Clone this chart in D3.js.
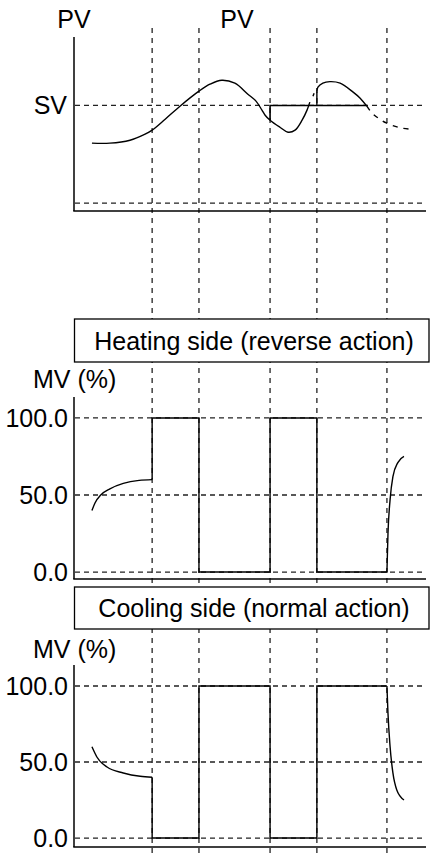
<!DOCTYPE html>
<html>
<head>
<meta charset="utf-8">
<script src="https://cdn.jsdelivr.net/npm/d3@7/dist/d3.min.js"></script>
<style>
html,body{margin:0;padding:0;background:#fff;}
svg{display:block;font-family:"Liberation Sans",Arial,sans-serif;}
</style>
</head>
<body>
<svg id="chart" width="430" height="857"></svg>
<script>
// ---------- DATA ----------
// time markers (vertical dashed guides), in time units 0..100
const eventTimes = [22.2, 35.5, 55.7, 69, 88.9];

// PV trace (SV = 100, lower reference = 0)
const svValue = 100;
const lowRef = 0;
const pvMainT = [5.1, 10.2, 15.9, 20.2, 22.2, 25.9, 30.1, 35.5, 38.6, 42.0, 45.7, 49.4, 51.7, 53.4, 54.3, 55.7, 58.5, 60.8, 62.8, 64.8, 66.2, 67.0];
const pvMainV = [61.4, 61.4, 64.4, 70.6, 74.7, 85.9, 99.2, 114.6, 121.7, 125.8, 122.7, 111.5, 104.4, 95.2, 90.0, 84.9, 77.7, 72.6, 74.7, 84.9, 95.2, 103.4];
const pvTickT = [67.9, 68.2];
const pvTickV = [109.5, 112.5];
const pvSecondT = [69, 69, 69.3, 70.7, 72.7, 75.6, 79.3, 81.3, 83.2];
const pvSecondV = [100, 114.6, 118.7, 122.8, 124.3, 122.8, 113.6, 107.4, 99.2];
const pvTailT = [83.2, 84.7, 86.9, 88.9, 92.6, 95.5];
const pvTailV = [99.2, 92.1, 85.9, 81.8, 77.2, 75.7];
const svHoldT = [55.7, 55.7, 83.2];
const svHoldV = [84.9, 100, 100];

// MV tick labels
const mvTicks = [0, 50, 100];
const mvTickLabels = ["0.0", "50.0", "100.0"];

// Heating side (reverse action)
const heatStartT = [5.1, 6.0, 7.6, 10.2, 14.0, 18.5, 22.2];
const heatStartV = [40, 45, 50, 54, 57.5, 59.5, 60];
const heatStepT = [22.2, 22.2, 35.5, 55.7, 69, 88.9];
const heatStepV = [60, 100, 0, 100, 0, 0];
const heatEndT = [88.9, 89.2, 89.8, 90.6, 92.0, 93.75];
const heatEndV = [0, 25, 47, 62, 71, 75];

// Cooling side (normal action)
const coolStartT = [5.1, 6.5, 9.4, 14.0, 18.8, 22.2];
const coolStartV = [60, 53.3, 46.7, 42.8, 40.6, 40];
const coolStepT = [22.2, 22.2, 35.5, 55.7, 69, 88.9];
const coolStepV = [40, 0, 100, 0, 100, 100];
const coolEndT = [88.9, 89.2, 89.8, 90.6, 91.7, 93.75];
const coolEndV = [100, 82, 60, 42.8, 31.6, 25];

// ---------- DRAW ----------
const svg = d3.select("#chart");
const FS = 25;
const zip = (T, V) => T.map((t, i) => [t, V[i]]);

const x = d3.scaleLinear().domain([0, 100]).range([74, 426]);
const yPV = d3.scaleLinear().domain([-8, 170]).range([211, 37]);
const yHeat = d3.scaleLinear().domain([-4.5, 113.6]).range([579, 397]);
const yCool = d3.scaleLinear().domain([-5.9, 113.8]).range([847, 665]);

// vertical dashed guides
svg.append("g").selectAll("line").data(eventTimes).join("line")
  .attr("x1", d => x(d)).attr("x2", d => x(d))
  .attr("y1", 28).attr("y2", 857)
  .attr("stroke", "#222").attr("stroke-width", 1.3)
  .attr("stroke-dasharray", "5,5");

function axes(y, top, bottom) {
  const g = svg.append("g");
  g.append("line").attr("x1", x(0)).attr("x2", x(0))
    .attr("y1", y(top)).attr("y2", y(bottom))
    .attr("stroke", "#000").attr("stroke-width", 1.5);
  g.append("line").attr("x1", x(0) - 0.75).attr("x2", x(100))
    .attr("y1", y(bottom)).attr("y2", y(bottom))
    .attr("stroke", "#000").attr("stroke-width", 1.5);
}
function hDash(y, v, x2end) {
  svg.append("line")
    .attr("x1", x(0) + 1).attr("x2", x2end)
    .attr("y1", y(v)).attr("y2", y(v))
    .attr("stroke", "#222").attr("stroke-width", 1.3)
    .attr("stroke-dasharray", "5,4");
}
const lineLin = (y) => d3.line().x(d => x(d[0])).y(d => y(d[1]));
const lineCurve = (y) => d3.line().x(d => x(d[0])).y(d => y(d[1])).curve(d3.curveCatmullRom.alpha(0.5));
const lineMono = (y) => d3.line().x(d => x(d[0])).y(d => y(d[1])).curve(d3.curveMonotoneX);
const lineStep = (y) => d3.line().x(d => x(d[0])).y(d => y(d[1])).curve(d3.curveStepAfter);
function path(gen, data, extra) {
  const p = svg.append("path").attr("d", gen(data))
    .attr("fill", "none").attr("stroke", "#000").attr("stroke-width", 1.4);
  if (extra) extra(p);
  return p;
}

// ----- PV panel -----
axes(yPV, 170, -8);
hDash(yPV, svValue, 426);
hDash(yPV, lowRef, 422);
path(lineLin(yPV), zip(svHoldT, svHoldV), p => p.attr("stroke-width", 1.6));
path(lineCurve(yPV), zip(pvMainT, pvMainV));
path(lineLin(yPV), zip(pvTickT, pvTickV));
path(lineLin(yPV), zip(pvSecondT.slice(0, 2), pvSecondV.slice(0, 2)));
path(lineCurve(yPV), zip(pvSecondT.slice(1), pvSecondV.slice(1)));
path(lineCurve(yPV), zip(pvTailT, pvTailV), p => p.attr("stroke-dasharray", "5,6"));

svg.append("text").attr("x", x(0)).attr("y", 28).attr("text-anchor", "middle")
  .attr("font-size", FS).text("PV");
svg.append("text").attr("x", 237).attr("y", 28).attr("text-anchor", "middle")
  .attr("font-size", FS).text("PV");
svg.append("text").attr("x", 67).attr("y", yPV(svValue) + 9).attr("text-anchor", "end")
  .attr("font-size", FS).text("SV");

// ----- MV panels -----
function mvPanel(y, title, boxTop, boxBottom, labelBase, startT, startV, stepT, stepV, endT, endV, top, bottom) {
  svg.append("rect").attr("x", 74.5).attr("y", boxTop).attr("width", 354.5).attr("height", boxBottom - boxTop)
    .attr("fill", "#fff").attr("stroke", "#000").attr("stroke-width", 1.3);
  svg.append("text").attr("x", 254).attr("y", boxBottom - 12).attr("text-anchor", "middle")
    .attr("font-size", FS).text(title);
  svg.append("text").attr("x", 33).attr("y", labelBase).attr("font-size", FS).text("MV (%)");
  axes(y, top, bottom);
  mvTicks.forEach((t, i) => {
    hDash(y, t, 423);
    svg.append("text").attr("x", 68).attr("y", y(t) + 9).attr("text-anchor", "end")
      .attr("font-size", FS).text(mvTickLabels[i]);
  });
  path(lineMono(y), zip(startT, startV));
  path(lineStep(y), zip(stepT, stepV));
  path(lineMono(y), zip(endT, endV));
}
mvPanel(yHeat, "Heating side (reverse action)", 319, 362, 388,
  heatStartT, heatStartV, heatStepT, heatStepV, heatEndT, heatEndV, 113.6, -4.5);
mvPanel(yCool, "Cooling side (normal action)", 587, 629, 658,
  coolStartT, coolStartV, coolStepT, coolStepV, coolEndT, coolEndV, 113.8, -5.9);
</script>
</body>
</html>
